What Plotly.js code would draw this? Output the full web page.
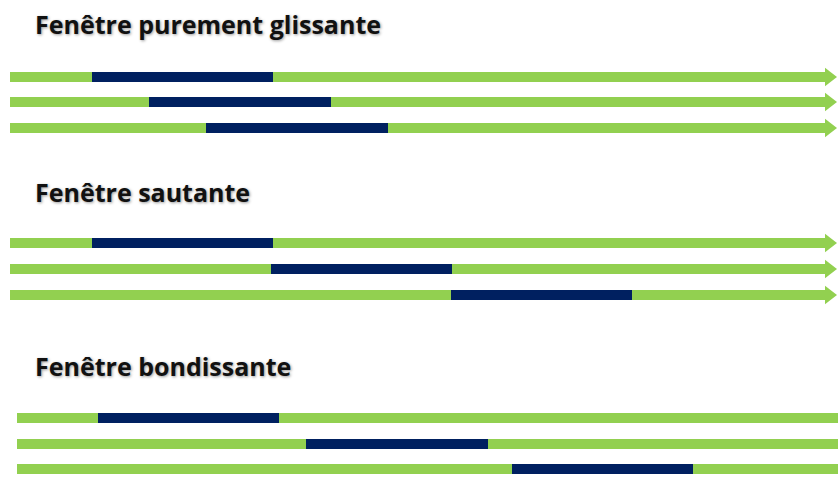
<!DOCTYPE html>
<html>
<head>
<meta charset="utf-8">
<script src="https://cdn.plot.ly/plotly-3.0.1.min.js"></script>
<style>html,body{margin:0;padding:0;background:#fff;}#chart{width:838px;height:477px;}</style>
</head>
<body>
<div id="chart"></div>
<script>
// Section titles
const sectionTitles = ["Fenêtre purement glissante", "Fenêtre sautante", "Fenêtre bondissante"];
const titleY = [24, 192, 366];
// Timeline (green) rows: y position, start and end of each row per section
const rowY = [
  [77, 102, 128],
  [243, 269, 295],
  [418, 444, 469]
];
const lineStart = [10, 10, 17];
const lineEnd = [829, 829, 838];
const hasArrow = [true, true, false];
// Window (dark blue) start / end on each row
const winStart = [
  [92, 149, 206],
  [92, 271, 451],
  [98, 306, 512]
];
const winEnd = [
  [273, 331, 388],
  [273, 452, 632],
  [279, 488, 693]
];

const GREEN = "#92D050", BLUE = "#002060";
const traces = [];
for (let s = 0; s < 3; s++) {
  for (let r = 0; r < 3; r++) {
    const y = rowY[s][r];
    traces.push({
      type: "scatter", mode: "lines",
      x: [lineStart[s], lineEnd[s]], y: [y, y],
      line: {color: GREEN, width: 10}, hoverinfo: "skip", showlegend: false
    });
    if (hasArrow[s]) {
      traces.push({
        type: "scatter", mode: "markers",
        x: [lineEnd[s]], y: [y],
        marker: {symbol: "triangle-right", size: 16, color: GREEN, line: {width: 0}},
        hoverinfo: "skip", showlegend: false
      });
    }
    traces.push({
      type: "scatter", mode: "lines",
      x: [winStart[s][r], winEnd[s][r]], y: [y, y],
      line: {color: BLUE, width: 10}, hoverinfo: "skip", showlegend: false
    });
  }
}

const annotations = sectionTitles.map((t, i) => ({
  text: "<b>" + t + "</b>", x: 33, y: titleY[i], xref: "x", yref: "y",
  xanchor: "left", yanchor: "middle", showarrow: false,
  font: {family: "'Open Sans', sans-serif", size: 25, color: "#111",
         shadow: "1px 1px 3px rgba(0,0,0,0.4)"}
}));

const layout = {
  width: 838, height: 477,
  margin: {l: 0, r: 0, t: 0, b: 0},
  paper_bgcolor: "#fff", plot_bgcolor: "#fff",
  xaxis: {range: [0, 838], visible: false, fixedrange: true},
  yaxis: {range: [477, 0], visible: false, fixedrange: true},
  annotations: annotations,
  showlegend: false
};
Plotly.newPlot("chart", traces, layout, {displayModeBar: false, staticPlot: true});
</script>
</body>
</html>
